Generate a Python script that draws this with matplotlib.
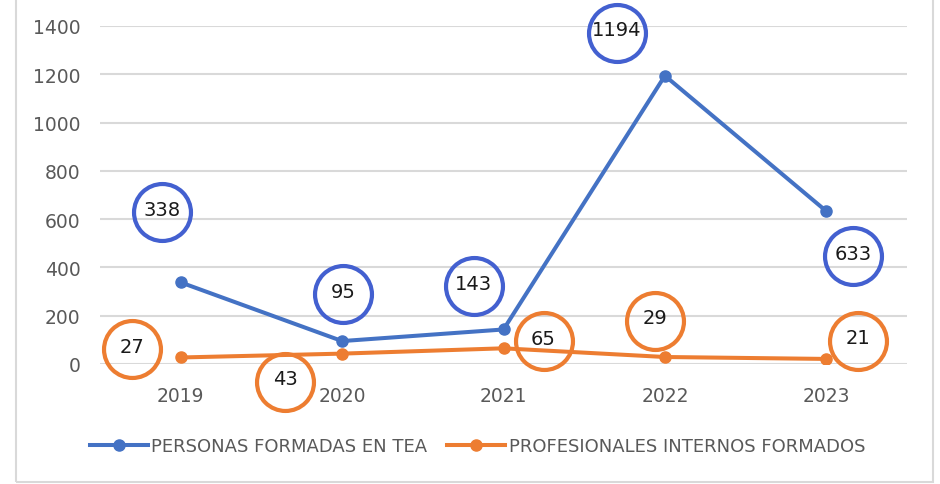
import matplotlib
matplotlib.use("Agg")
import matplotlib.pyplot as plt
from matplotlib.transforms import offset_copy
from matplotlib.patches import Rectangle

years = ["2019", "2020", "2021", "2022", "2023"]
personas = [338, 95, 143, 1194, 633]
profesionales = [27, 43, 65, 29, 21]
series_names = ["PERSONAS FORMADAS EN TEA", "PROFESIONALES INTERNOS FORMADOS"]
yticks = [0, 200, 400, 600, 800, 1000, 1200, 1400]

# label circle offsets (pixels) relative to each point
off_personas = [(-19, 70), (1, 47), (-30, 43), (-48, 43), (27, -45)]
off_prof = [(-49, 8), (-57, -28), (40, 7), (-10, 36), (32, 18)]

line_blue = "#4472C4"
line_orange = "#ED7D31"
circ_blue = "#4360D0"
circ_orange = "#ED7D31"

fig = plt.figure(figsize=(9.4, 4.85), dpi=100)
ax = fig.add_axes([100/940, (485-365)/485, (907-100)/940, (365-27)/485])

x = list(range(len(years)))
ax.plot(x, personas, color=line_blue, lw=2.9, marker="o", ms=8, label=series_names[0], zorder=3)
ax.plot(x, profesionales, color=line_orange, lw=2.9, marker="o", ms=8, label=series_names[1], zorder=3)

ax.set_xlim(-0.5, len(years) - 0.5)
ax.set_ylim(0, 1400)
ax.set_yticks(yticks)
ax.set_yticklabels([str(t) for t in yticks])
ax.set_xticks(x)
ax.set_xticklabels(years)
ax.tick_params(axis="both", length=0, labelsize=13.5, labelcolor="#595959")
ax.tick_params(axis="y", pad=14)
ax.tick_params(axis="x", pad=16)
ax.grid(axis="y", color="#D9D9D9", lw=1.5)
ax.set_axisbelow(True)
for s in ax.spines.values():
    s.set_visible(False)

def labels(vals, offs, color):
    for i, (v, (dx, dy)) in enumerate(zip(vals, offs)):
        tr = offset_copy(ax.transData, fig=fig, x=dx, y=dy, units="dots")
        ax.plot([i], [v], marker="o", ms=41, mfc="none", mec=color, mew=3.0,
                transform=tr, clip_on=False, zorder=5)
        tr2 = offset_copy(ax.transData, fig=fig, x=dx, y=dy + 3, units="dots")
        ax.text(i, v, str(v), transform=tr2, ha="center", va="center",
                fontsize=14, color="#1a1a1a", zorder=6, clip_on=False)

labels(personas, off_personas, circ_blue)
labels(profesionales, off_prof, circ_orange)

fig.legend(loc="center", bbox_to_anchor=(0.508, 0.078), ncol=2, frameon=False,
           handlelength=3.2, handletextpad=0.2, columnspacing=1.1,
           prop={"family": ["Liberation Sans Narrow", "DejaVu Sans"], "size": 13},
           labelcolor="#595959")

fig.patches.append(Rectangle((16/940, 2/485), (933-16)/940, 1.2, transform=fig.transFigure,
                             fill=False, ec="#D9D9D9", lw=1.5))

fig.savefig("out.png", dpi=100)
